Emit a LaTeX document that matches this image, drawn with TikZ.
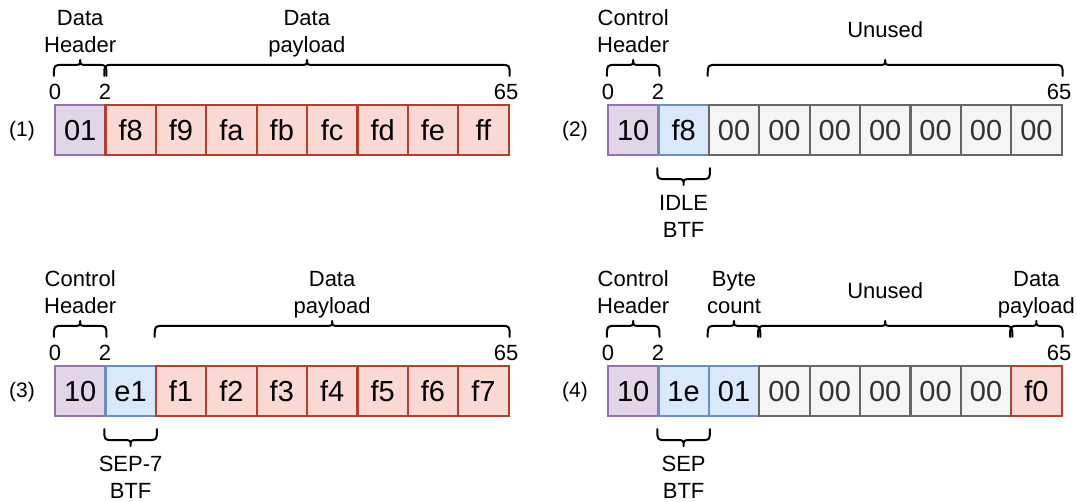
\documentclass[tikz,border=0pt]{standalone}
\usepackage{fontspec}
\setmainfont{Liberation Sans}
\usetikzlibrary{calc}
\definecolor{purF}{HTML}{E1D5E7}\definecolor{purD}{HTML}{9673A6}
\definecolor{redF}{HTML}{FAD9D5}\definecolor{redD}{HTML}{AE4132}
\definecolor{bluF}{HTML}{DAE8FC}\definecolor{bluD}{HTML}{6C8EBF}
\definecolor{gryF}{HTML}{F5F5F5}\definecolor{gryD}{HTML}{666666}\definecolor{gryT}{HTML}{333333}
\tikzset{
  cell/.style={draw, line width=2.2pt, minimum width=50.4pt, minimum height=50pt, inner sep=0pt,
    font=\fontsize{29}{31}\selectfont, text height=20.5pt, text depth=0pt},
  pur/.style={cell, fill=purF, draw=purD},
  redc/.style={cell, fill=redF, draw=redD},
  blu/.style={cell, fill=bluF, draw=bluD},
  gry/.style={cell, fill=gryF, draw=gryD, text=gryT},
  lbl/.style={font=\fontsize{22}{27}\selectfont, align=center, inner sep=0pt, anchor=base},
  num/.style={font=\fontsize{22}{27}\selectfont, inner sep=0pt, anchor=base},
  tag/.style={font=\fontsize{21}{25}\selectfont, inner sep=0pt},
  braceln/.style={line width=2pt, line cap=round, line join=round}
}
% top brace between two anchors on box tops
\newcommand\TopBrace[2]{%
  \draw[braceln] let \p1=(#1), \p2=(#2), \n1={0.5*(\x1+\x2)} in
    (\x1,\y1+28pt) .. controls (\x1,\y1+39pt) .. (\x1+9pt,\y1+39pt)
    -- (\n1-7pt,\y1+39pt) .. controls (\n1,\y1+39pt) .. (\n1,\y1+44pt)
    .. controls (\n1,\y1+39pt) .. (\n1+7pt,\y1+39pt)
    -- (\x2-9pt,\y1+39pt) .. controls (\x2,\y1+39pt) .. (\x2,\y1+28pt);}
\newcommand\BotBrace[2]{%
  \draw[braceln] let \p1=(#1), \p2=(#2), \n1={0.5*(\x1+\x2)} in
    (\x1,\y1-12pt) .. controls (\x1,\y1-23pt) .. (\x1+9pt,\y1-23pt)
    -- (\n1-7pt,\y1-23pt) .. controls (\n1,\y1-23pt) .. (\n1,\y1-29pt)
    .. controls (\n1,\y1-23pt) .. (\n1+7pt,\y1-23pt)
    -- (\x2-9pt,\y1-23pt) .. controls (\x2,\y1-23pt) .. (\x2,\y1-12pt);}
\begin{document}
\begin{tikzpicture}[x=1pt,y=-1pt]
\fill[white] (0,0) rectangle (1077,502);
\useasboundingbox (0,0) rectangle (1077,502);

% ---------- row 1 ----------
\foreach \t/\s [count=\i] in {01/pur,f8/redc,f9/redc,fa/redc,fb/redc,fc/redc,fd/redc,fe/redc,ff/redc}
  \node[\s] (ra\i) at (29.8+50.4*\i,130) {\t};
% ---------- row 2 ----------
\foreach \t/\s [count=\i] in {10/pur,f8/blu,00/gry,00/gry,00/gry,00/gry,00/gry,00/gry,00/gry}
  \node[\s] (rb\i) at (582.8+50.4*\i,130) {\t};
% ---------- row 3 ----------
\foreach \t/\s [count=\i] in {10/pur,e1/blu,f1/redc,f2/redc,f3/redc,f4/redc,f5/redc,f6/redc,f7/redc}
  \node[\s] (rc\i) at (29.8+50.4*\i,391) {\t};
% ---------- row 4 ----------
\foreach \t/\s [count=\i] in {10/pur,1e/blu,01/blu,00/gry,00/gry,00/gry,00/gry,00/gry,f0/redc}
  \node[\s] (rd\i) at (582.8+50.4*\i,391) {\t};

% tags
\node[tag] (t1) at (22,131) {(1)};
\node[tag] (t2) at (575,131) {(2)};
\node[tag] (t3) at (22,392) {(3)};
\node[tag] (t4) at (575,392) {(4)};

% numbers
\node[num] (n1a) at (55,100) {0};
\node[num] (n1b) at (105,100) {2};
\node[num] (n1c) at (506,100) {65};
\node[num] (n2a) at (608,100) {0};
\node[num] (n2b) at (658,100) {2};
\node[num] (n2c) at (1059,100) {65};
\node[num] (n3a) at (55,361) {0};
\node[num] (n3b) at (105,361) {2};
\node[num] (n3c) at (506,361) {65};
\node[num] (n4a) at (608,361) {0};
\node[num] (n4b) at (658,361) {2};
\node[num] (n4c) at (1059,361) {65};

% braces
\TopBrace{ra1.north west}{ra1.north east}
\TopBrace{ra2.north west}{ra9.north east}
\TopBrace{rb1.north west}{rb1.north east}
\TopBrace{rb3.north west}{rb9.north east}
\BotBrace{rb2.south west}{rb2.south east}
\TopBrace{rc1.north west}{rc1.north east}
\TopBrace{rc3.north west}{rc9.north east}
\BotBrace{rc2.south west}{rc2.south east}
\TopBrace{rd1.north west}{rd1.north east}
\TopBrace{rd3.north west}{rd3.north east}
\TopBrace{rd4.north west}{rd8.north east}
\TopBrace{rd9.north west}{rd9.north east}
\BotBrace{rd2.south west}{rd2.south east}

% labels (base = baseline of last line)
\node[lbl] (l1a) at (80.2,52.5) {Data\\Header};
\node[lbl] (l1b) at (306.8,52.5) {Data\\payload};
\node[lbl] (l2a) at (633.2,52.5) {Control\\Header};
\node[lbl] (l2b) at (885.2,38) {Unused};
\node[lbl] (l2c) at (683.6,238) {IDLE\\BTF};
\node[lbl] (l3a) at (80.2,313.5) {Control\\Header};
\node[lbl] (l3b) at (332.1,313.5) {Data\\payload};
\node[lbl] (l3c) at (130.6,499) {SEP-7\\BTF};
\node[lbl] (l4a) at (633.2,313.5) {Control\\Header};
\node[lbl] (l4b) at (734.0,313.5) {Byte\\count};
\node[lbl] (l4c) at (885.2,299) {Unused};
\node[lbl] (l4d) at (1036.4,313.5) {Data\\payload};
\node[lbl] (l4e) at (683.6,499) {SEP\\BTF};
\end{tikzpicture}
\end{document}
